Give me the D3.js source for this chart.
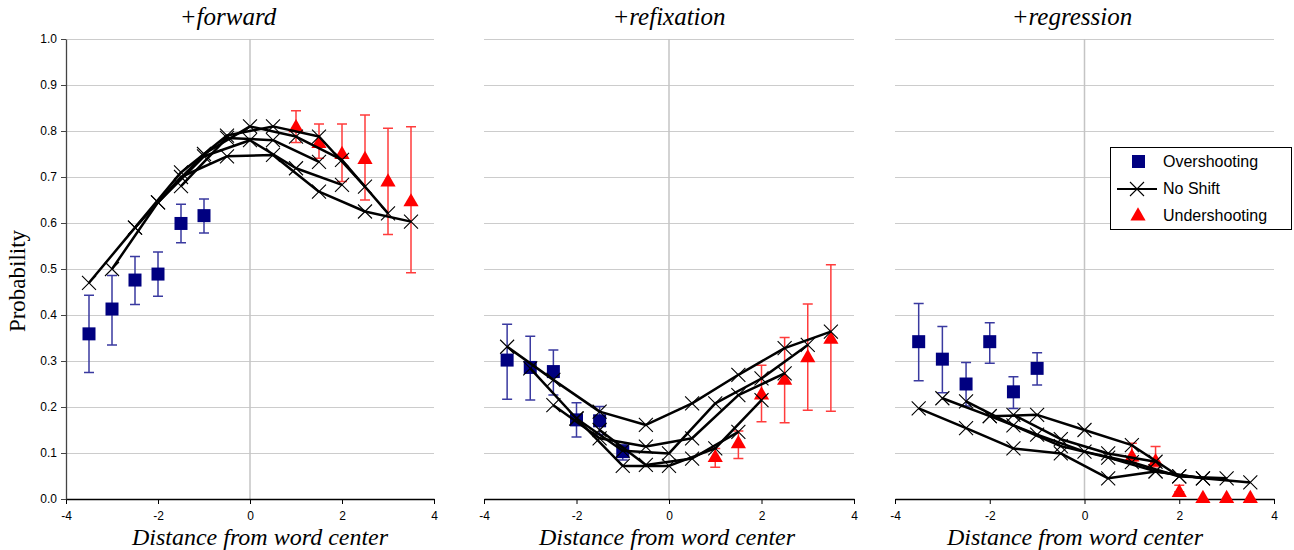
<!DOCTYPE html>
<html>
<head>
<meta charset="utf-8">
<script src="https://cdn.jsdelivr.net/npm/d3@7"></script>
<style>
  body { margin: 0; background: #fff; }
  svg { display: block; }
</style>
</head>
<body>
<div id="chart"></div>
<script>
const width = 1294,
  height = 550;

// x positions
const overX = [-3.5, -3, -2.5, -2, -1.5, -1];
const underX = [1, 1.5, 2, 2.5, 3, 3.5];
const x8 = [-3.5, -2.5, -1.5, -0.5, 0.5, 1.5, 2.5, 3.5];
const x7 = [-3, -2, -1, 0, 1, 2, 3];
const x6 = [-2.5, -1.5, -0.5, 0.5, 1.5, 2.5];
const x5 = [-2, -1, 0, 1, 2];
const x4 = [-1.5, -0.5, 0.5, 1.5];

// +forward
const fwdOver = [0.359, 0.413, 0.476, 0.489, 0.599, 0.616];
const fwdOverLo = [0.275, 0.335, 0.423, 0.441, 0.557, 0.578];
const fwdOverHi = [0.443, 0.486, 0.527, 0.537, 0.641, 0.652];
const fwdUnder = [0.809, 0.775, 0.751, 0.74, 0.691, 0.648];
const fwdUnderLo = [0.775, 0.741, 0.69, 0.65, 0.575, 0.492];
const fwdUnderHi = [0.844, 0.815, 0.815, 0.835, 0.806, 0.809];
const fwd8 = [0.47, 0.59, 0.7, 0.745, 0.748, 0.668, 0.625, 0.603];
const fwd7 = [0.5, 0.645, 0.75, 0.81, 0.788, 0.737, 0.621];
const fwd6 = [0.59, 0.71, 0.79, 0.81, 0.788, 0.679];
const fwd5 = [0.645, 0.745, 0.78, 0.719, 0.683];
const fwd4 = [0.68, 0.785, 0.78, 0.733];

// +refixation
const refOver = [0.302, 0.286, 0.277, 0.172, 0.17, 0.103];
const refOverLo = [0.217, 0.215, 0.226, 0.135, 0.14, 0.085];
const refOverHi = [0.38, 0.354, 0.324, 0.209, 0.201, 0.118];
const refUnder = [0.092, 0.122, 0.228, 0.26, 0.309, 0.349];
const refUnderLo = [0.069, 0.088, 0.168, 0.166, 0.193, 0.191];
const refUnderHi = [0.11, 0.148, 0.291, 0.351, 0.424, 0.509];
const ref8 = [0.331, 0.259, 0.19, 0.161, 0.208, 0.27, 0.328, 0.364];
const ref7 = [0.284, 0.175, 0.105, 0.099, 0.208, 0.262, 0.335];
const ref6 = [0.204, 0.132, 0.114, 0.132, 0.226, 0.273];
const ref5 = [0.175, 0.072, 0.072, 0.11, 0.215];
const ref4 = [0.15, 0.074, 0.088, 0.146];

// +regression
const regOver = [0.342, 0.304, 0.25, 0.342, 0.233, 0.284];
const regOverLo = [0.257, 0.231, 0.202, 0.295, 0.197, 0.248];
const regOverHi = [0.425, 0.375, 0.297, 0.383, 0.266, 0.318];
const regUnder = [0.093, 0.083, 0.016, 0.003, 0.003, 0.003];
const regUnderLo = [0.08, 0.07, 0.016, 0.003, 0.003, 0.003];
const regUnderHi = [0.121, 0.114, 0.03, 0.003, 0.003, 0.003];
const reg8 = [0.197, 0.154, 0.11, 0.099, 0.045, 0.06, 0.045, 0.036];
const reg7 = [0.219, 0.18, 0.14, 0.103, 0.08, 0.049, 0.045];
const reg6 = [0.212, 0.16, 0.115, 0.09, 0.06, 0.045];
const reg5 = [0.18, 0.183, 0.15, 0.117, 0.049];
const reg4 = [0.183, 0.13, 0.099, 0.081];

const xTicks = [-4, -2, 0, 2, 4];
const yTicks = [0, 0.1, 0.2, 0.3, 0.4, 0.5, 0.6, 0.7, 0.8, 0.9, 1.0];
const titles = ["+forward", "+refixation", "+regression"];
const xTitle = "Distance from word center";
const legendLabels = ["Overshooting", "No Shift", "Undershooting"];

const zip = (xs, ys) => xs.map((x, i) => [x, ys[i]]);

const panels = [
  {
    title: titles[0], x0: 66, x1: 434, titleX: 228, xTitleX: 260, showY: true,
    over: fwdOver, overLo: fwdOverLo, overHi: fwdOverHi,
    under: fwdUnder, underLo: fwdUnderLo, underHi: fwdUnderHi,
    lines: [zip(x8, fwd8), zip(x7, fwd7), zip(x6, fwd6), zip(x5, fwd5), zip(x4, fwd4)]
  },
  {
    title: titles[1], x0: 484, x1: 854, titleX: 669, xTitleX: 667, showY: false,
    over: refOver, overLo: refOverLo, overHi: refOverHi,
    under: refUnder, underLo: refUnderLo, underHi: refUnderHi,
    lines: [zip(x8, ref8), zip(x7, ref7), zip(x6, ref6), zip(x5, ref5), zip(x4, ref4)]
  },
  {
    title: titles[2], x0: 895, x1: 1274, titleX: 1072, xTitleX: 1075, showY: false,
    over: regOver, overLo: regOverLo, overHi: regOverHi,
    under: regUnder, underLo: regUnderLo, underHi: regUnderHi,
    lines: [zip(x8, reg8), zip(x7, reg7), zip(x6, reg6), zip(x5, reg5), zip(x4, reg4)]
  }
];

const svg = d3
  .select("#chart")
  .append("svg")
  .attr("width", width)
  .attr("height", height);

const y = d3.scaleLinear().domain([0, 1]).range([499, 39]);

const navy = "#000080",
  navyBar = "#3a3aa0",
  red = "#ff0000",
  redBar = "#ff3c3c";

const crossPath = (s) => `M${-s},${-s}L${s},${s}M${-s},${s}L${s},${-s}`;
const triPath = d3.symbol(d3.symbolTriangle, 100)();

panels.forEach((p) => {
  const x = d3.scaleLinear().domain([-4, 4]).range([p.x0, p.x1]);
  const g = svg.append("g");

  // gridlines
  g.selectAll(".grid")
    .data(yTicks.slice(1))
    .join("line")
    .attr("x1", p.x0)
    .attr("x2", p.x1)
    .attr("y1", (d) => Math.round(y(d)) + 0.5)
    .attr("y2", (d) => Math.round(y(d)) + 0.5)
    .attr("stroke", "#cccccc")
    .attr("stroke-width", 1);

  // zero line
  g.append("line")
    .attr("x1", x(0))
    .attr("x2", x(0))
    .attr("y1", y(1))
    .attr("y2", y(0))
    .attr("stroke", "#c4c4c4")
    .attr("stroke-width", 1.5);

  // x axis
  const xAxis = g
    .append("g")
    .attr("transform", `translate(0,${y(0)})`)
    .call(d3.axisBottom(x).tickValues(xTicks).tickSize(5).tickSizeOuter(0).tickFormat((d) => String(d)));
  xAxis.select(".domain").attr("stroke", "#000").attr("stroke-width", 1.3);
  xAxis.selectAll(".tick line").attr("stroke", "#000");
  xAxis
    .selectAll("text")
    .attr("font-family", "Liberation Sans, Arial, sans-serif")
    .attr("font-size", 12)
    .attr("fill", "#000")
    .attr("dy", "1.05em");

  if (p.showY) {
    const yAxis = g
      .append("g")
      .attr("transform", `translate(${p.x0},0)`)
      .call(d3.axisLeft(y).tickValues(yTicks).tickSize(5).tickSizeOuter(0).tickFormat(d3.format(".1f")));
    yAxis.select(".domain").attr("stroke", "#444").attr("stroke-width", 1.3);
    yAxis.selectAll(".tick line").attr("stroke", "#444");
    yAxis
      .selectAll("text")
      .attr("font-family", "Liberation Sans, Arial, sans-serif")
      .attr("font-size", 12)
      .attr("fill", "#000")
      .attr("x", -9);
  }

  // titles
  g.append("text")
    .attr("x", p.titleX)
    .attr("y", 25)
    .attr("text-anchor", "middle")
    .attr("font-family", "Liberation Serif, Times New Roman, serif")
    .attr("font-style", "italic")
    .attr("font-size", 25)
    .text(p.title);

  g.append("text")
    .attr("x", p.xTitleX)
    .attr("y", 545)
    .attr("text-anchor", "middle")
    .attr("font-family", "Liberation Serif, Times New Roman, serif")
    .attr("font-style", "italic")
    .attr("font-size", 24)
    .text(xTitle);

  // overshooting error bars + squares
  const ov = g
    .selectAll(".over")
    .data(overX.map((d, i) => ({ x: d, v: p.over[i], lo: p.overLo[i], hi: p.overHi[i] })))
    .join("g")
    .attr("transform", (d) => `translate(${x(d.x)},0)`);
  ov.append("path")
    .attr("d", (d) => `M0,${y(d.lo)}V${y(d.hi)}M-5,${y(d.lo)}H5M-5,${y(d.hi)}H5`)
    .attr("stroke", navyBar)
    .attr("stroke-width", 1.5)
    .attr("fill", "none");
  ov.append("rect")
    .attr("x", -6.5)
    .attr("y", (d) => y(d.v) - 6.5)
    .attr("width", 13)
    .attr("height", 13)
    .attr("fill", navy);

  // undershooting error bars + triangles
  const un = g
    .selectAll(".under")
    .data(underX.map((d, i) => ({ x: d, v: p.under[i], lo: p.underLo[i], hi: p.underHi[i] })))
    .join("g")
    .attr("transform", (d) => `translate(${x(d.x)},0)`);
  un.filter((d) => d.hi - d.lo > 0.001)
    .append("path")
    .attr("d", (d) => `M0,${y(d.lo)}V${y(d.hi)}M-5,${y(d.lo)}H5M-5,${y(d.hi)}H5`)
    .attr("stroke", redBar)
    .attr("stroke-width", 1.5)
    .attr("fill", "none");
  un.append("path")
    .attr("d", triPath)
    .attr("transform", (d) => `translate(0,${y(d.v) + 1})`)
    .attr("fill", red);

  // no shift lines
  const line = d3
    .line()
    .x((d) => x(d[0]))
    .y((d) => y(d[1]));
  g.selectAll(".ns")
    .data(p.lines)
    .join("path")
    .attr("d", line)
    .attr("fill", "none")
    .attr("stroke", "#000")
    .attr("stroke-width", 2.5)
    .attr("stroke-linejoin", "round");
  g.selectAll(".nsm")
    .data(p.lines.flat())
    .join("path")
    .attr("d", crossPath(7))
    .attr("transform", (d) => `translate(${x(d[0])},${y(d[1])})`)
    .attr("stroke", "#000")
    .attr("stroke-width", 1.1)
    .attr("fill", "none");
});

// y title
svg
  .append("text")
  .attr("transform", "translate(25,281) rotate(-90)")
  .attr("text-anchor", "middle")
  .attr("font-family", "Liberation Serif, Times New Roman, serif")
  .attr("font-size", 23)
  .text("Probability");

// legend
const lg = svg.append("g").attr("transform", "translate(1110,147)");
lg.append("rect")
  .attr("x", 0.5)
  .attr("y", 0.5)
  .attr("width", 181)
  .attr("height", 82)
  .attr("fill", "#fff")
  .attr("stroke", "#000")
  .attr("stroke-width", 1);
lg.append("rect").attr("x", 22).attr("y", 8).attr("width", 13).attr("height", 13).attr("fill", navy);
lg.append("line").attr("x1", 7).attr("x2", 47).attr("y1", 42).attr("y2", 42).attr("stroke", "#000").attr("stroke-width", 2);
lg.append("path").attr("d", crossPath(7)).attr("transform", "translate(27,42)").attr("stroke", "#000").attr("stroke-width", 1.1);
lg.append("path").attr("d", triPath).attr("transform", "translate(28,69)").attr("fill", red);
lg.selectAll(".lt")
  .data(legendLabels)
  .join("text")
  .attr("x", 53)
  .attr("y", (_d, i) => 20 + i * 27)
  .attr("font-family", "Liberation Sans, Arial, sans-serif")
  .attr("font-size", 16)
  .text((d) => d);
</script>
</body>
</html>
